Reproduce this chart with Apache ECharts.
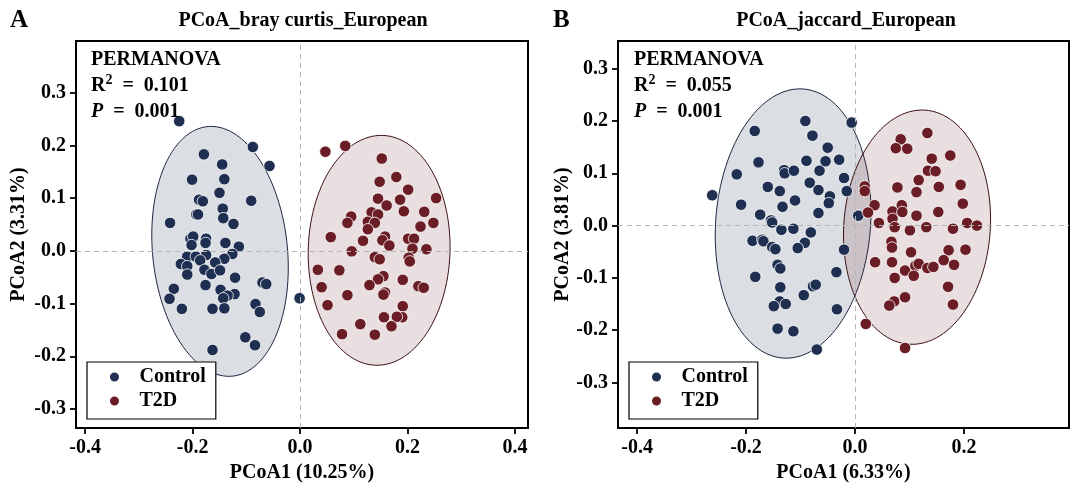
<!DOCTYPE html>
<html>
<head>
<meta charset="UTF-8">
<script type="text/javascript" src="https://cdn.jsdelivr.net/npm/echarts@6/dist/echarts.min.js"></script>
<title>PCoA</title>
<style>body{margin:0;background:#fff;}</style>
</head>
<body>
	<div id="main" style="width:1080px;height:490px;"></div>
	<script type="text/javascript">
		// ---- data ----
		var groups = ['Control', 'T2D'];
		var titles = ['PCoA_bray curtis_European', 'PCoA_jaccard_European'];
		var xNames = ['PCoA1 (10.25%)', 'PCoA1 (6.33%)'];
		var yNames = ['PCoA2 (3.31%)', 'PCoA2 (3.81%)'];
		var r2Values = ['0.101', '0.055'];
		var pValues = ['0.001', '0.001'];

		var xTicksA = [-0.4, -0.2, 0, 0.2, 0.4];
		var yTicksA = [-0.3, -0.2, -0.1, 0, 0.1, 0.2, 0.3];
		var xTicksB = [-0.4, -0.2, 0, 0.2];
		var yTicksB = [-0.3, -0.2, -0.1, 0, 0.1, 0.2, 0.3];

		var controlA = [[-0.225,0.246],[-0.088,0.197],[-0.057,0.161],[-0.179,0.183],[-0.145,0.164],[-0.201,0.135],[-0.141,0.136],
			[-0.150,0.110],[-0.188,0.097],[-0.181,0.094],[-0.091,0.095],[-0.193,0.069],[-0.190,0.069],[-0.144,0.080],[-0.143,0.062],
			[-0.124,0.051],[-0.242,0.053],[-0.204,0.023],[-0.199,0.027],[-0.175,0.023],[-0.176,0.015],[-0.202,0.011],[-0.139,0.015],
			[-0.114,0.008],[-0.126,-0.006],[-0.141,-0.015],[-0.210,-0.011],[-0.194,-0.011],[-0.175,-0.008],[-0.186,-0.018],[-0.158,-0.022],
			[-0.222,-0.025],[-0.210,-0.029],[-0.210,-0.045],[-0.178,-0.036],[-0.165,-0.044],[-0.149,-0.037],[-0.121,-0.051],[-0.070,-0.060],
			[-0.063,-0.063],[-0.235,-0.072],[-0.176,-0.065],[-0.148,-0.074],[-0.122,-0.082],[-0.135,-0.085],[-0.143,-0.090],[-0.243,-0.091],
			[-0.220,-0.110],[-0.163,-0.110],[-0.141,-0.109],[-0.083,-0.101],[-0.075,-0.116],[-0.102,-0.164],[-0.084,-0.179],[-0.163,-0.188],
			[-0.001,-0.090]];
		var t2dA = [[0.047,0.188],[0.084,0.199],[0.152,0.175],[0.179,0.140],[0.148,0.131],[0.201,0.116],[0.253,0.100],[0.145,0.099],
			[0.186,0.097],[0.161,0.086],[0.133,0.073],[0.145,0.069],[0.095,0.065],[0.088,0.053],[0.126,0.055],[0.139,0.053],[0.126,0.041],
			[0.193,0.075],[0.231,0.074],[0.248,0.053],[0.224,0.046],[0.057,0.026],[0.117,0.019],[0.158,0.027],[0.153,0.020],[0.166,0.010],
			[0.201,0.023],[0.212,0.023],[0.209,0.004],[0.235,0.003],[0.096,-0.001],[0.139,-0.012],[0.148,-0.016],[0.202,-0.013],[0.204,-0.020],
			[0.033,-0.036],[0.073,-0.037],[0.155,-0.048],[0.145,-0.054],[0.191,-0.055],[0.129,-0.065],[0.220,-0.067],[0.230,-0.070],
			[0.040,-0.069],[0.088,-0.084],[0.158,-0.079],[0.155,-0.083],[0.051,-0.103],[0.191,-0.105],[0.190,-0.126],[0.180,-0.125],
			[0.156,-0.126],[0.112,-0.139],[0.170,-0.143],[0.078,-0.158],[0.139,-0.159]];
		var controlB = [[-0.262,0.058],[-0.217,0.098],[-0.184,0.181],[-0.177,0.121],[-0.209,0.040],[-0.160,0.074],[-0.174,0.021],
			[-0.154,0.010],[-0.152,0.006],[-0.138,0.066],[-0.130,0.106],[-0.129,0.100],[-0.112,0.105],[-0.133,0.036],[-0.110,0.048],
			[-0.135,-0.008],[-0.113,-0.006],[-0.188,-0.029],[-0.170,-0.027],[-0.168,-0.030],[-0.152,-0.041],[-0.146,-0.045],[-0.092,-0.033],
			[-0.105,-0.043],[-0.081,-0.013],[-0.091,0.200],[-0.078,0.172],[-0.089,0.124],[-0.083,0.082],[-0.067,0.068],[-0.065,0.105],
			[-0.067,0.024],[-0.050,0.149],[-0.054,0.123],[-0.046,0.056],[-0.048,0.043],[-0.029,0.126],[-0.020,0.091],[-0.015,0.066],
			[-0.006,0.197],[0.006,0.019],[-0.020,-0.046],[-0.142,-0.075],[-0.137,-0.082],[-0.183,-0.098],[-0.137,-0.118],[-0.138,-0.145],
			[-0.127,-0.150],[-0.149,-0.154],[-0.094,-0.133],[-0.077,-0.116],[-0.072,-0.113],[-0.034,-0.089],[-0.033,-0.160],[-0.142,-0.197],
			[-0.113,-0.202],[-0.070,-0.237]];
		var t2dB = [[0.018,0.075],[0.018,0.066],[0.036,0.039],[0.024,0.025],[0.044,0.005],[0.084,0.165],[0.075,0.148],[0.096,0.147],
			[0.133,0.177],[0.141,0.128],[0.134,0.105],[0.148,0.104],[0.175,0.134],[0.117,0.087],[0.078,0.073],[0.113,0.064],[0.154,0.074],
			[0.194,0.078],[0.086,0.039],[0.069,0.027],[0.087,0.026],[0.069,0.013],[0.073,-0.003],[0.113,0.019],[0.101,-0.009],[0.153,0.026],
			[0.131,-0.003],[0.198,0.042],[0.206,0.005],[0.224,0.000],[0.180,-0.006],[0.067,-0.031],[0.068,-0.042],[0.103,-0.051],
			[0.172,-0.047],[0.203,-0.046],[0.037,-0.070],[0.068,-0.070],[0.092,-0.086],[0.111,-0.077],[0.117,-0.073],[0.133,-0.081],
			[0.144,-0.079],[0.163,-0.066],[0.182,-0.075],[0.073,-0.100],[0.108,-0.096],[0.171,-0.117],[0.092,-0.137],[0.072,-0.145],
			[0.063,-0.153],[0.180,-0.151],[0.020,-0.188],[0.092,-0.234]];

		// confidence ellipses: [centre x, centre y, half-width x, half-height y, correlation]
		var ellControlA = [-0.149, -0.001, 0.127, 0.237, -0.13];
		var ellT2dA = [0.147, 0.001, 0.132, 0.218, 0.03];
		var ellControlB = [-0.1135, 0.004, 0.143, 0.2575, 0.088];
		var ellT2dB = [0.114, -0.003, 0.135, 0.224, 0.068];

		// ---- chart ----
		var FONT = '"Liberation Serif", "Times New Roman", serif';
		var colors = {Control: '#1f2f52', T2D: '#6b1d26'};
		var fills = {Control: 'rgba(31,47,82,0.16)', T2D: 'rgba(107,29,38,0.14)'};
		var strokes = {Control: '#1c2640', T2D: '#3d1014'};

		var myChart = echarts.init(document.getElementById('main'));

		function ellipseSeries(name, ell, group, idx, withZeroLines) {
			var s = {
				type: 'custom',
				name: name,
				xAxisIndex: idx,
				yAxisIndex: idx,
				z: 1,
				silent: true,
				data: [[ell[0], ell[1]]],
				renderItem: function (params, api) {
					var pts = [];
					var k = Math.sqrt(1 - ell[4] * ell[4]);
					for (var i = 0; i < 120; i++) {
						var t = i / 120 * Math.PI * 2;
						var x = ell[0] + ell[2] * Math.cos(t);
						var y = ell[1] + ell[3] * (ell[4] * Math.cos(t) + k * Math.sin(t));
						pts.push(api.coord([x, y]));
					}
					return {
						type: 'polygon',
						shape: {points: pts},
						style: {fill: fills[group], stroke: strokes[group], lineWidth: 1}
					};
				}
			};
			if (withZeroLines) {
				s.markLine = {
					silent: true,
					symbol: 'none',
					label: {show: false},
					lineStyle: {color: '#b5b5b5', type: [5, 4], width: 1},
					data: [{xAxis: 0}, {yAxis: 0}]
				};
			}
			return s;
		}

		function scatterSeries(group, data, idx) {
			return {
				type: 'scatter',
				name: group,
				xAxisIndex: idx,
				yAxisIndex: idx,
				z: 3,
				symbolSize: 11.5,
				itemStyle: {color: colors[group], borderColor: '#fff', borderWidth: 0.8, opacity: 1},
				data: data
			};
		}

		function xAxis(idx, min, max, ticks, name) {
			return {
				type: 'value', gridIndex: idx, min: min, max: max,
				name: name, nameLocation: 'middle', nameGap: 32,
				nameTextStyle: {fontFamily: FONT, fontWeight: 'bold', fontSize: 20, lineHeight: 20, color: '#000'},
				axisLine: {show: true, onZero: false, lineStyle: {color: '#000', width: 2}},
				axisTick: {show: true, length: 6, lineStyle: {color: '#000', width: 1.8}, customValues: ticks},
				axisLabel: {customValues: ticks, margin: 10, fontFamily: FONT, fontWeight: 'bold', fontSize: 20, color: '#000',
					formatter: function (v) { return v.toFixed(1); }},
				splitLine: {show: false}
			};
		}

		function yAxis(idx, min, max, ticks, name, gap) {
			return {
				type: 'value', gridIndex: idx, min: min, max: max,
				name: name, nameLocation: 'middle', nameGap: gap, nameRotate: 90,
				nameTextStyle: {fontFamily: FONT, fontWeight: 'bold', fontSize: 20, lineHeight: 20, color: '#000'},
				axisLine: {show: true, onZero: false, lineStyle: {color: '#000', width: 2}},
				axisTick: {show: true, length: 6, lineStyle: {color: '#000', width: 1.8}, customValues: ticks},
				axisLabel: {customValues: ticks, margin: 10, fontFamily: FONT, fontWeight: 'bold', fontSize: 20, color: '#000',
					formatter: function (v) { return v.toFixed(1); }},
				splitLine: {show: false}
			};
		}

		function legend(left) {
			return {
				left: left, top: 362, orient: 'vertical',
				data: groups, icon: 'circle',
				itemWidth: 40, itemHeight: 11, itemGap: 4,
				backgroundColor: '#fff', borderColor: '#000', borderWidth: 1.2, borderRadius: 0,
				padding: [5, 10, 8, 21],
				selectedMode: false,
				textStyle: {fontFamily: FONT, fontWeight: 'bold', fontSize: 20, lineHeight: 20, color: '#000'}
			};
		}

		function annotation(x, i) {
			return {
				type: 'text', x: x, y: 47, z: 10,
				style: {
					text: '{b|PERMANOVA}\n{b|R}{s|2}{b|  =  ' + r2Values[i] + '}\n{i|P}{b|  =  ' + pValues[i] + '}',
					verticalAlign: 'top',
					rich: {
						b: {fontFamily: FONT, fontWeight: 'bold', fontSize: 20, lineHeight: 26, fill: '#000'},
						s: {fontFamily: FONT, fontWeight: 'bold', fontSize: 14, lineHeight: 20, verticalAlign: 'top', fill: '#000'},
						i: {fontFamily: FONT, fontWeight: 'bold', fontStyle: 'italic', fontSize: 20, lineHeight: 26, fill: '#000'}
					}
				}
			};
		}

		function label(x, y, text, size, align) {
			return {
				type: 'text', x: x, y: y, z: 10,
				style: {text: text, fill: '#000', align: align, verticalAlign: 'middle',
					font: 'bold ' + size + 'px ' + FONT}
			};
		}

		var option = {
			backgroundColor: '#fff',
			animation: false,
			grid: [
				{left: 76, top: 41, width: 452, height: 387, show: true, borderColor: '#000', borderWidth: 2, backgroundColor: 'transparent', outerBoundsMode: 'none'},
				{left: 618, top: 41, width: 451, height: 387, show: true, borderColor: '#000', borderWidth: 2, backgroundColor: 'transparent', outerBoundsMode: 'none'}
			],
			xAxis: [
				xAxis(0, -0.417, 0.424, xTicksA, xNames[0]),
				xAxis(1, -0.435, 0.393, xTicksB, xNames[1])
			],
			yAxis: [
				yAxis(0, -0.336, 0.398, yTicksA, yNames[0], 47),
				yAxis(1, -0.387, 0.353, yTicksB, yNames[1], 45)
			],
			legend: [legend(87), legend(629)],
			series: [
				ellipseSeries('ellControlA', ellControlA, 'Control', 0, true),
				ellipseSeries('ellT2dA', ellT2dA, 'T2D', 0, false),
				scatterSeries('Control', controlA, 0),
				scatterSeries('T2D', t2dA, 0),
				ellipseSeries('ellControlB', ellControlB, 'Control', 1, true),
				ellipseSeries('ellT2dB', ellT2dB, 'T2D', 1, false),
				scatterSeries('Control', controlB, 1),
				scatterSeries('T2D', t2dB, 1)
			],
			graphic: [
				label(10, 21, 'A', 25, 'left'),
				label(553, 21, 'B', 25, 'left'),
				label(303, 20.5, titles[0], 20, 'center'),
				label(846, 20.5, titles[1], 20, 'center'),
				annotation(91, 0),
				annotation(634, 1)
			]
		};
		myChart.setOption(option);
	</script>
</body>
</html>
